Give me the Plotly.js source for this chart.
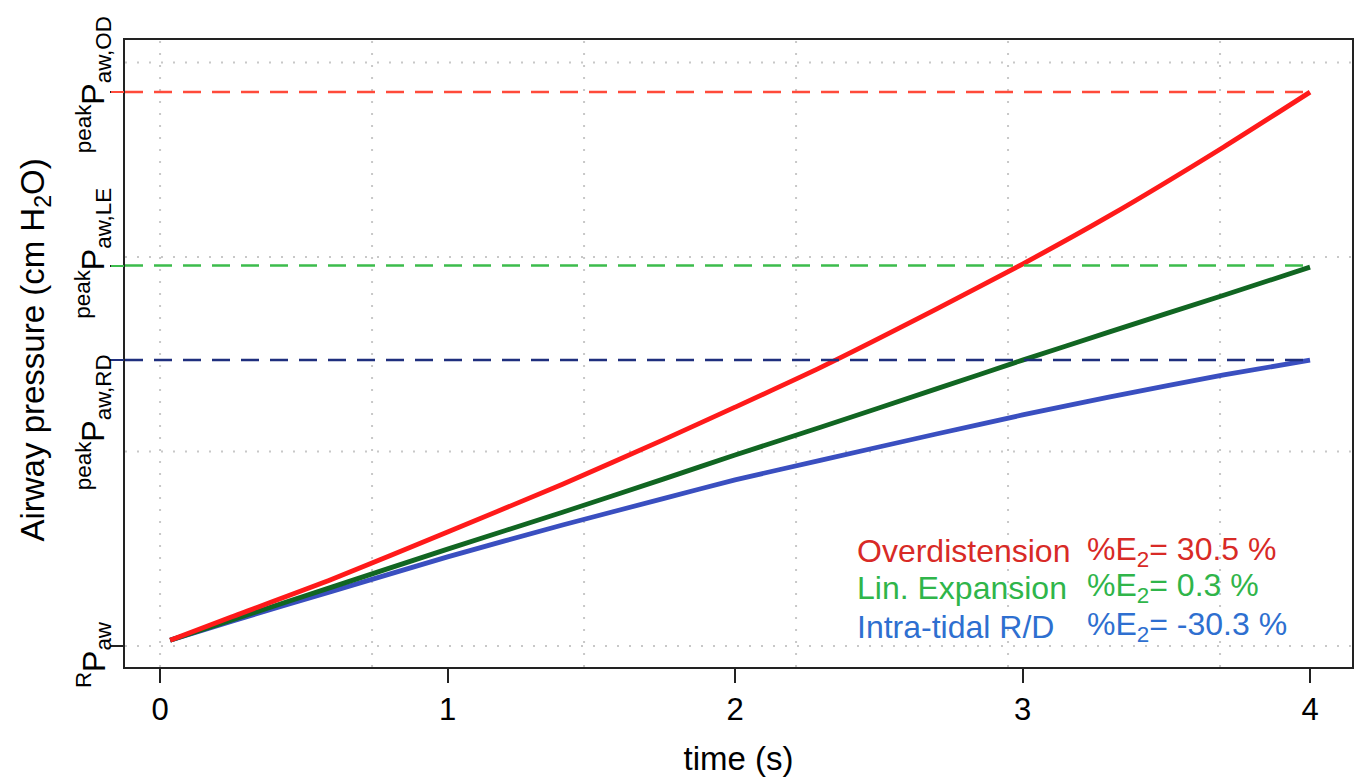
<!DOCTYPE html>
<html>
<head>
<meta charset="utf-8">
<script src="https://cdn.plot.ly/plotly-3.0.1.min.js"></script>
<style>html,body{margin:0;padding:0;background:#fff;}#chart{width:1358px;height:777px;}</style>
</head>
<body>
<div id="chart"></div>
<script>
// time (s)
const timeS = [0.035, 0.25, 0.6, 1.0, 1.4, 1.75, 2.0, 2.3, 2.7, 3.0, 3.3, 3.7, 4.0];
// airway pressure (cm H2O)
const overdistension = [5.15, 5.75, 6.72, 7.93, 9.16, 10.30, 11.14, 12.17, 13.66, 14.82, 16.05, 17.83, 19.24];
const linExpansion   = [5.15, 5.67, 6.52, 7.49, 8.44, 9.29, 9.91, 10.63, 11.61, 12.35, 13.07, 14.02, 14.74];
const intratidalRD   = [5.15, 5.64, 6.41, 7.29, 8.11, 8.79, 9.27, 9.78, 10.45, 10.94, 11.40, 11.97, 12.35];

const seriesNames = ['Overdistension', 'Lin. Expansion', 'Intra-tidal R/D'];
const e2Values = [30.5, 0.3, -30.3];

const peakOD = 19.24, peakLE = 14.78, peakRD = 12.35;
const yTickVals = [5.0, peakRD, peakLE, peakOD];
const yTickText = ['<sup>R</sup>P<sub>aw</sub>', '<sup>peak</sup>P<sub>aw,RD</sub>', '<sup>peak</sup>P<sub>aw,LE</sub>', '<sup>peak</sup>P<sub>aw,OD</sub>'];
const yLabelShift = [-9, -62, 12, 7];
const xTickVals = [0, 1, 2, 3, 4];
const hGrid = [5, 10, 15, 20];
const vGridStep = 0.7374;

const xRange = [-0.122, 4.146];
const yRange = [4.46, 20.58];

const lineCols = ['#ff1a1a', '#116622', '#3a4fc0'];
const dashCols = ['#ff4a3a', '#3cbc4c', '#1f2f7e'];
const textCols = ['#d82a26', '#2fb54a', '#2e6fd0'];
const FONT = 'Liberation Sans, Arial, Helvetica, sans-serif';

const traces = [];
const peaks = [peakOD, peakLE, peakRD];
const dashAxes = ['y2', 'y3', 'y4'];
peaks.forEach((p, i) => {
  traces.push({x: [xRange[0], 4], y: [p, p], xaxis: 'x', yaxis: dashAxes[i], mode: 'lines',
    line: {color: dashCols[i], width: 2.5, dash: '18px,11px'}, hoverinfo: 'skip', showlegend: false});
});
[overdistension, linExpansion, intratidalRD].reverse().forEach((ys, k) => {
  const i = 2 - k;
  traces.push({x: timeS, y: ys, mode: 'lines', line: {color: lineCols[i], width: 4.8, shape: 'spline', smoothing: 0.6},
    name: seriesNames[i], showlegend: false});
});

const shapes = [];
for (let gx = 0; gx <= 4.1; gx += vGridStep) {
  shapes.push({type: 'line', xref: 'x', yref: 'paper', x0: gx, x1: gx, y0: 0, y1: 1, layer: 'below',
    line: {color: '#c8c8c8', width: 2, dash: '2px,10px'}});
}
hGrid.forEach(gy => {
  shapes.push({type: 'line', xref: 'paper', yref: 'y', x0: 0, x1: 1, y0: gy, y1: gy, layer: 'below',
    line: {color: '#c8c8c8', width: 2, dash: '2px,10px'}});
});

const annotations = [];
// y tick labels (rotated)
yTickVals.forEach((v, i) => {
  annotations.push({xref: 'paper', yref: 'y', x: -0.026, y: v, xanchor: 'center', yanchor: 'middle',
    yshift: yLabelShift[i], textangle: -90, text: yTickText[i], showarrow: false,
    font: {family: FONT, size: 32, color: '#000'}});
});
// y axis title
annotations.push({xref: 'paper', yref: 'paper', x: -0.0735, y: 0.506, xanchor: 'center', yanchor: 'middle',
  textangle: -90, text: 'Airway pressure (cm H<sub>2</sub>O)', showarrow: false,
  font: {family: FONT, size: 33, color: '#000'}});
// in-plot legend text
const rowY = [0.185, 0.126, 0.064];
seriesNames.forEach((n, i) => {
  annotations.push({xref: 'paper', yref: 'paper', x: 0.595, y: rowY[i], xanchor: 'left', yanchor: 'middle',
    text: n, showarrow: false, font: {family: FONT, size: 32, color: textCols[i]}});
  annotations.push({xref: 'paper', yref: 'paper', x: 0.782, y: rowY[i], xanchor: 'left', yanchor: 'middle',
    text: '%E<sub>2</sub>= ' + e2Values[i] + ' %', showarrow: false, font: {family: FONT, size: 32, color: textCols[i]}});
});

function overlayY(val, col) {
  return {overlaying: 'y', anchor: 'x', side: 'left', range: yRange, tickvals: [val],
    ticks: 'outside', ticklen: 13, tickwidth: 2, tickcolor: col, showticklabels: false,
    showgrid: false, zeroline: false, showline: false, fixedrange: true};
}

const layout = {
  width: 1358, height: 777,
  margin: {l: 125, r: 6, t: 40, b: 110},
  paper_bgcolor: '#fff', plot_bgcolor: '#fff',
  font: {family: FONT, color: '#000'},
  showlegend: false,
  xaxis: {range: xRange, tickvals: xTickVals, ticks: 'outside', ticklen: 14, tickwidth: 2, tickcolor: '#222',
    showline: true, mirror: true, linecolor: '#222', linewidth: 2, showgrid: false, zeroline: false,
    tickfont: {size: 31, family: FONT}, title: {text: 'time (s)', font: {size: 33, family: FONT}, standoff: 22}},
  yaxis: {range: yRange, tickvals: yTickVals, showticklabels: false, ticks: 'outside', ticklen: 13,
    tickwidth: 2, tickcolor: '#222', showline: true, mirror: true, linecolor: '#222', linewidth: 2,
    showgrid: false, zeroline: false},
  yaxis2: overlayY(peakOD, dashCols[0]),
  yaxis3: overlayY(peakLE, dashCols[1]),
  yaxis4: overlayY(peakRD, dashCols[2]),
  shapes: shapes,
  annotations: annotations
};

Plotly.newPlot('chart', traces, layout, {displayModeBar: false, staticPlot: true});
</script>
</body>
</html>
